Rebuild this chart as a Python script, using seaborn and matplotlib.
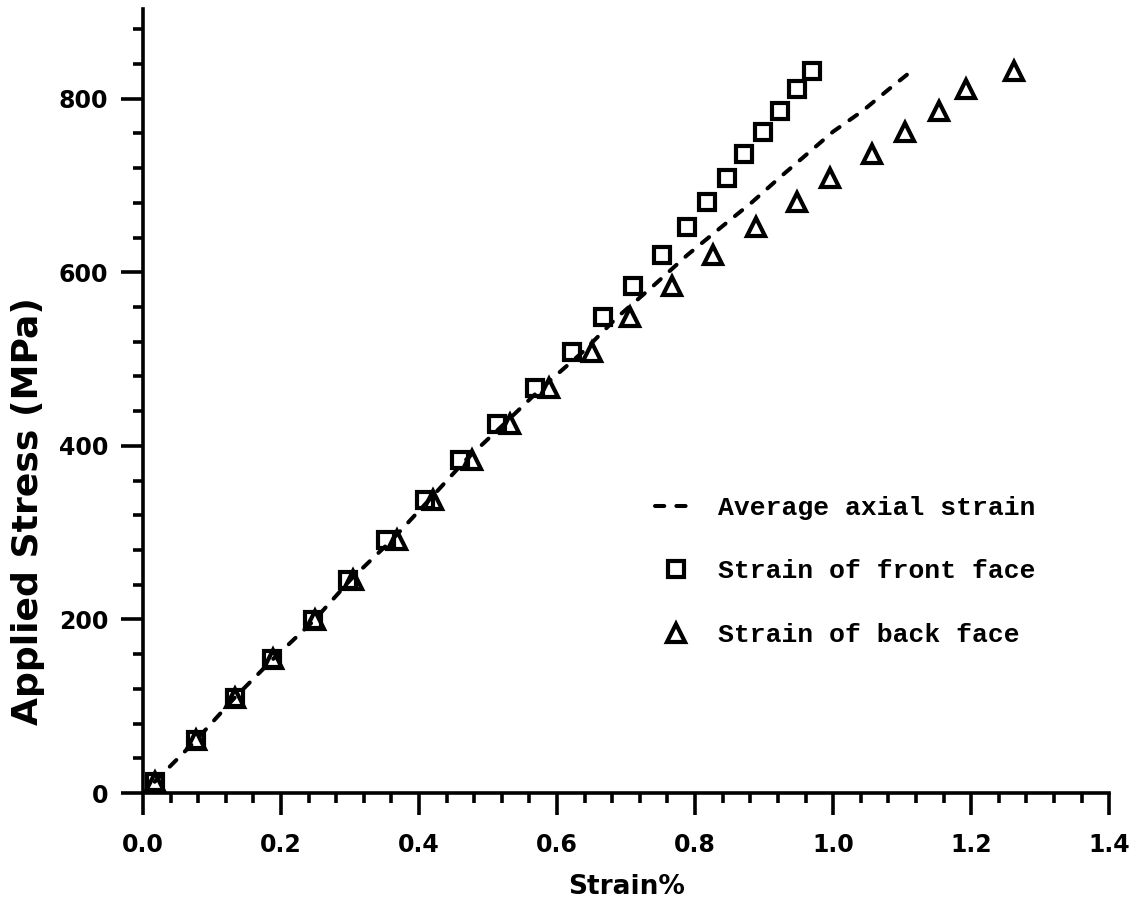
import numpy as np
import matplotlib
matplotlib.use("Agg")
import matplotlib.pyplot as plt
import seaborn as sns
from matplotlib.ticker import MultipleLocator

# values
stress = [13, 61, 110, 154, 199, 246, 291, 338, 384, 425, 467, 508,
          548, 584, 620, 652, 681, 708, 736, 762, 786, 811, 832]
front_strain = [0.017, 0.077, 0.133, 0.187, 0.246, 0.297, 0.352, 0.409,
                0.459, 0.513, 0.568, 0.622, 0.667, 0.710, 0.752, 0.788,
                0.817, 0.846, 0.871, 0.899, 0.923, 0.948, 0.970]
back_strain = [0.017, 0.077, 0.133, 0.188, 0.249, 0.304, 0.368, 0.420,
               0.477, 0.532, 0.588, 0.651, 0.706, 0.767, 0.826, 0.888,
               0.948, 0.996, 1.057, 1.104, 1.154, 1.193, 1.262]
avg_strain = [0.017, 0.077, 0.133, 0.188, 0.248, 0.301, 0.360, 0.415,
              0.468, 0.523, 0.578, 0.637, 0.687, 0.739, 0.789, 0.838,
              0.883, 0.921, 0.962, 1.000, 1.043, 1.081, 1.114]

labels = ["Average axial strain", "Strain of front face", "Strain of back face"]
x_ticks = [0.0, 0.2, 0.4, 0.6, 0.8, 1.0, 1.2, 1.4]
y_ticks = [0, 200, 400, 600, 800]

sns.set_style("ticks")
plt.rcParams['font.family'] = ['DejaVu Sans']
plt.rcParams.update({'text.color': 'black', 'axes.labelcolor': 'black',
                     'xtick.color': 'black', 'ytick.color': 'black',
                     'axes.edgecolor': 'black'})

fig = plt.figure(figsize=(11.34, 9.13), dpi=100)
ax = fig.add_axes([0.1261, 0.1314, 0.852, 0.8585])

sns.lineplot(x=avg_strain, y=stress, ax=ax, sort=False, color='black',
             linewidth=2.9, dashes=False, label=labels[0])
line = ax.get_lines()[-1]
line.set_linewidth(2.9)
line.set_dashes([2.3, 3.0])
line.set_dash_capstyle('round')

sns.lineplot(x=front_strain, y=stress, ax=ax, sort=False, linestyle='',
             marker='s', markersize=11.5, markerfacecolor='none',
             markeredgecolor='black', markeredgewidth=3.0, color='black',
             label=labels[1])
sns.lineplot(x=back_strain, y=stress, ax=ax, sort=False, linestyle='',
             marker='^', markersize=12.5, markerfacecolor='none',
             markeredgecolor='black', markeredgewidth=3.0, color='black',
             label=labels[2])

ax.set_xlim(0, 1.4)
ax.set_ylim(0, 903)
ax.set_xticks(x_ticks)
ax.set_xticklabels([f"{v:.1f}" for v in x_ticks])
ax.set_yticks(y_ticks)
ax.set_yticklabels([str(v) for v in y_ticks])
ax.xaxis.set_minor_locator(MultipleLocator(0.04))
ax.yaxis.set_minor_locator(MultipleLocator(40))

sns.despine(ax=ax)
for side in ['left', 'bottom']:
    ax.spines[side].set_linewidth(2.6)
ax.tick_params(which='major', length=16, width=2.6, labelsize=17)
ax.tick_params(axis='x', which='major', pad=13)
ax.tick_params(axis='y', which='major', pad=9)
ax.tick_params(which='minor', length=7, width=2.6)
for lab in ax.get_xticklabels() + ax.get_yticklabels():
    lab.set_fontweight('bold')

ax.set_xlabel("Strain%", fontsize=19, fontweight='bold', labelpad=12)
ax.set_ylabel("Applied Stress (MPa)", fontsize=26, fontweight='bold')
ax.yaxis.set_label_coords(-0.101, 0.36)

handles = ax.get_lines()[:3]
ax.legend(handles, labels, loc='upper left',
          bbox_to_anchor=(0.5776, 0.457), bbox_transform=fig.transFigure,
          frameon=False, borderpad=0, borderaxespad=0,
          handlelength=1.6, handletextpad=0.8, labelspacing=1.5,
          prop={'family': 'Liberation Mono', 'size': 19, 'weight': 'bold'})

fig.savefig("out.png", dpi=100, facecolor='white')
